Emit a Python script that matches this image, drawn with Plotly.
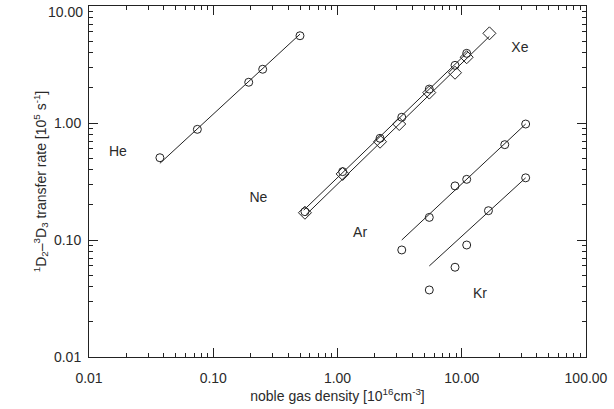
import plotly.graph_objects as go

# He
he_x = [0.0372, 0.0745, 0.193, 0.25, 0.499]
he_y = [0.505, 0.883, 2.23, 2.88, 5.57]
he_fit_x = [0.0372, 0.499]
he_fit_y = [0.452, 5.75]

# Ne (circles)
ne_x = [0.547, 1.10, 2.20, 3.29, 5.48, 8.83, 10.96]
ne_y = [0.1746, 0.384, 0.740, 1.12, 1.95, 3.11, 3.94]
ne_fit_x = [0.535, 11.2]
ne_fit_y = [0.180, 4.05]

# Xe (diamonds)
xe_x = [0.547, 1.10, 2.20, 3.14, 5.48, 8.83, 10.96, 16.7]
xe_y = [0.171, 0.367, 0.692, 0.98, 1.82, 2.69, 3.65, 5.84]
xe_fit_x = [0.56, 16.7]
xe_fit_y = [0.165, 5.5]

# Ar
ar_x = [3.29, 5.48, 8.83, 10.96, 22.2, 32.7]
ar_y = [0.0822, 0.156, 0.290, 0.330, 0.653, 0.98]
ar_fit_x = [3.29, 32.7]
ar_fit_y = [0.100, 0.98]

# Kr
kr_x = [5.48, 8.83, 10.96, 16.4, 32.7]
kr_y = [0.0374, 0.0585, 0.0906, 0.178, 0.340]
kr_fit_x = [5.48, 32.7]
kr_fit_y = [0.060, 0.340]

labels = ["He", "Ne", "Ar", "Xe", "Kr"]
label_x = [0.0171, 0.231, 1.52, 29.4, 14.0]
label_y = [0.555, 0.227, 0.114, 4.35, 0.0339]

x_major = [0.01, 0.1, 1, 10, 100]
x_major_text = ["0.01", "0.10", "1.00", "10.00", "100.00"]
y_major = [0.01, 0.1, 1, 10]
y_major_text = ["0.01", "0.10", "1.00", "10.00"]

x_minor = [m * d for d in [0.01, 0.1, 1, 10] for m in range(2, 10)]
y_minor = [m * d for d in [0.01, 0.1, 1] for m in range(2, 10)]

INK = "#222222"
TXT = "#2a2a2a"
FONT = "Liberation Sans"
XR = [-2.0001, 2.0001]
YR = [-2.0001, 1.0001]

fig = go.Figure()

def add_fit(x, y):
    fig.add_trace(go.Scatter(x=x, y=y, mode="lines",
                             line=dict(color=INK, width=1), showlegend=False,
                             hoverinfo="skip"))

def add_pts(x, y, symbol, size=8):
    fig.add_trace(go.Scatter(x=x, y=y, mode="markers",
                             marker=dict(symbol=symbol, size=size, color=INK,
                                         line=dict(color=INK, width=1)),
                             showlegend=False))

for fx, fy in [(he_fit_x, he_fit_y), (ne_fit_x, ne_fit_y), (xe_fit_x, xe_fit_y),
               (ar_fit_x, ar_fit_y), (kr_fit_x, kr_fit_y)]:
    add_fit(fx, fy)

add_pts(he_x, he_y, "circle-open")
add_pts(ne_x, ne_y, "circle-open")
add_pts(xe_x, xe_y, "diamond-open", 10)
add_pts(ar_x, ar_y, "circle-open")
add_pts(kr_x, kr_y, "circle-open")

fig.add_trace(go.Scatter(x=label_x, y=label_y, mode="text", text=labels,
                         textfont=dict(family=FONT, size=14, color=TXT),
                         showlegend=False))

# invisible trace to anchor the overlay axes (long major ticks)
fig.add_trace(go.Scatter(x=[1], y=[1], xaxis="x2", yaxis="y2", mode="markers",
                         marker=dict(opacity=0), showlegend=False, hoverinfo="skip"))

x_all = x_major + x_minor
x_all_text = x_major_text + [""] * len(x_minor)
y_all = y_major[:-1] + y_minor
y_all_text = y_major_text[:-1] + [""] * len(y_minor)

axis_common = dict(
    type="log", showgrid=False, zeroline=False, automargin=False,
    showline=True, linecolor=INK, linewidth=1, mirror="allticks",
    ticks="inside", ticklen=4, tickcolor=INK, tickwidth=1,
    tickfont=dict(family=FONT, size=14, color=TXT),
    ticklabeloverflow="allow",
)

overlay_common = dict(type="log", showticklabels=False, ticks="inside", ticklen=9,
                      tickcolor=INK, tickwidth=1, mirror="allticks", showline=False,
                      showgrid=False, zeroline=False, automargin=False)

fig.update_layout(
    xaxis=dict(range=XR, tickmode="array", tickvals=x_all, ticktext=x_all_text,
               ticklabelstandoff=8,
               title=dict(text="noble gas density [10<sup>16</sup>cm<sup>-3</sup>]",
                          font=dict(family=FONT, size=14, color=TXT), standoff=2),
               **axis_common),
    yaxis=dict(range=YR, tickmode="array", tickvals=y_all, ticktext=y_all_text,
               ticklabelstandoff=4,
               title=dict(text="<sup>1</sup>D<sub>2</sub>\u2013<sup>3</sup>D<sub>3</sub> transfer rate [10<sup>5</sup> s<sup>-1</sup>]",
                          font=dict(family=FONT, size=14, color=TXT), standoff=4),
               **axis_common),
    xaxis2=dict(range=XR, overlaying="x", anchor="y2", side="bottom",
                tickmode="array", tickvals=x_major, **overlay_common),
    yaxis2=dict(range=YR, overlaying="y", anchor="x2", side="left",
                tickmode="array", tickvals=y_major, **overlay_common),
    annotations=[dict(text=y_major_text[-1], xref="paper", yref="y", x=0, y=1,
                      xanchor="right", yanchor="middle", xshift=-4, yshift=-6,
                      showarrow=False, font=dict(family=FONT, size=14, color=TXT))],
    width=614, height=409, margin=dict(l=89, r=28, t=6, b=52),
    plot_bgcolor="white", paper_bgcolor="white",
)

fig.write_html("out.html")
